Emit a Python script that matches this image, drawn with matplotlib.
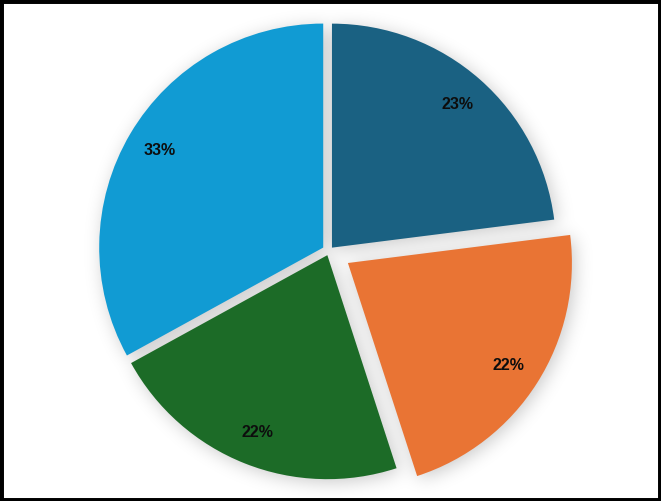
import numpy as np
import matplotlib
matplotlib.use("Agg")
import matplotlib.pyplot as plt
from matplotlib.patches import Rectangle

# slice data, clockwise from 12 o'clock
values = [23, 22, 22, 33]
colors = ["#1a6182", "#e97434", "#1c6b27", "#119bd3"]
explode = [0.02, 0.1, 0.02, 0.03]

W, H = 661, 501
fig = plt.figure(figsize=(W / 100, H / 100), dpi=100)
ax = fig.add_axes([0, 0, 1, 1])
ax.set_axis_off()

r_px = 224.0
xlim = (-(329.0) / r_px, (W - 329.0) / r_px)
ylim = (-(H - 251.0) / r_px, 251.0 / r_px)

wedges, texts, autotexts = ax.pie(
    values, colors=colors, explode=explode, startangle=90, counterclock=False,
    radius=1.0, autopct="%1.0f%%", pctdistance=0.85,
    wedgeprops=dict(linewidth=0),
    textprops=dict(fontsize=11.5, fontweight="bold", color="#0d0d0d",
                   family="Liberation Sans"),
)
ax.set_xlim(*xlim)
ax.set_ylim(*ylim)

# soft shadow under the pie: blurred mask of the wedges
xs = np.linspace(xlim[0], xlim[1], W)
ys = np.linspace(ylim[1], ylim[0], H)
X, Y = np.meshgrid(xs, ys)
off = 3.0 / r_px
mask = np.zeros_like(X)
for w in wedges:
    cx, cy = w.center
    dx = X - cx - off
    dy = Y - cy + off
    rr = np.hypot(dx, dy)
    ang = np.degrees(np.arctan2(dy, dx)) % 360
    t1, t2 = w.theta1 % 360, w.theta2 % 360
    if t1 <= t2:
        inside = (ang >= t1) & (ang <= t2)
    else:
        inside = (ang >= t1) | (ang <= t2)
    mask[(rr <= w.r) & inside] = 1.0

sigma = 9.0
k = np.arange(-35, 36)
kern = np.exp(-0.5 * (k / sigma) ** 2)
kern /= kern.sum()
blur = np.apply_along_axis(lambda v: np.convolve(v, kern, mode="same"), 1, mask)
blur = np.apply_along_axis(lambda v: np.convolve(v, kern, mode="same"), 0, blur)

shadow = np.zeros((H, W, 4))
shadow[..., 3] = 0.22 * blur
ax.imshow(shadow, extent=(xlim[0], xlim[1], ylim[0], ylim[1]),
          zorder=0, interpolation="bilinear", aspect="auto")
for w in wedges:
    w.set_zorder(2)
for t in autotexts:
    t.set_zorder(3)
ax.set_xlim(*xlim)
ax.set_ylim(*ylim)

fig.patches.append(Rectangle((0, 0), 1, 1, transform=fig.transFigure,
                             fill=False, edgecolor="black", linewidth=5))

fig.savefig("out.png", dpi=100, facecolor="white")
